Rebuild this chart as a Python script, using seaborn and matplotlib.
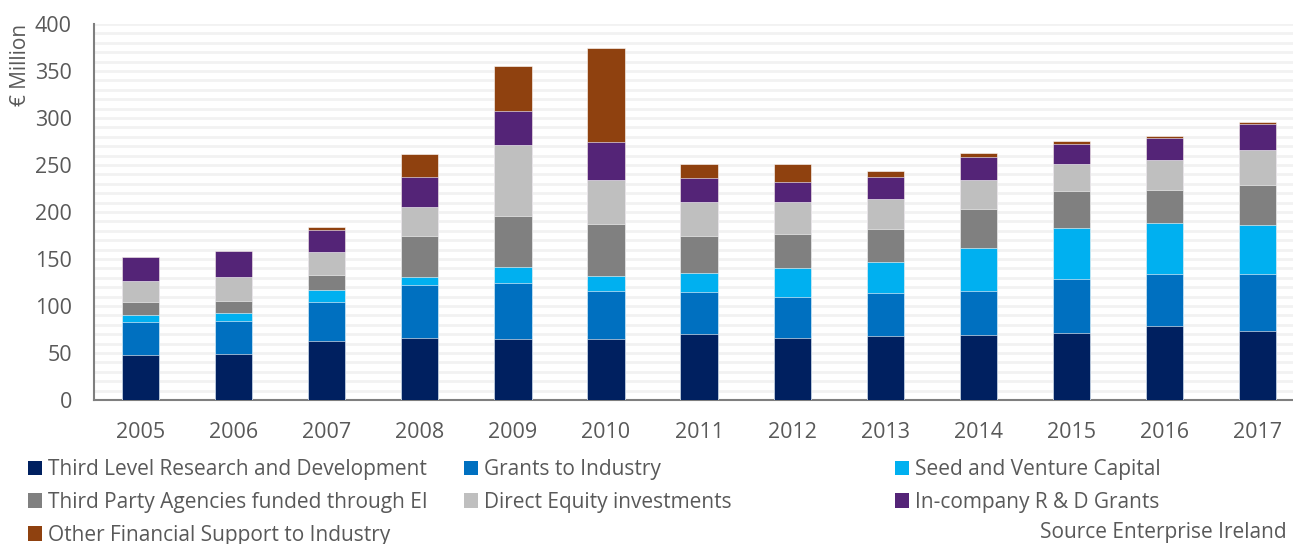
import numpy as np
import pandas as pd
import matplotlib
matplotlib.use("Agg")
import matplotlib.pyplot as plt
from matplotlib.patches import Patch
from matplotlib.ticker import MultipleLocator
import seaborn as sns

years = ["2005", "2006", "2007", "2008", "2009", "2010", "2011",
         "2012", "2013", "2014", "2015", "2016", "2017"]

third_level = [47.5, 48.6, 62.4, 66.3, 64.5, 64.5, 69.9, 66.3, 67.7, 68.8, 70.9, 78.4, 73.0]
grants      = [35.5, 35.4, 42.2, 56.4, 60.3, 51.5, 45.3, 43.6, 46.1, 47.2, 58.2, 55.6, 61.0]
seed        = [7.4, 8.6, 12.4, 8.5, 16.3, 15.6, 19.9, 30.2, 33.0, 46.1, 53.9, 54.3, 52.2]
third_party = [13.5, 13.1, 16.0, 42.9, 55.0, 55.3, 39.7, 36.9, 35.1, 41.1, 39.3, 35.5, 42.9]
direct_eq   = [22.3, 25.2, 24.4, 30.9, 74.8, 47.1, 36.2, 34.0, 32.3, 30.8, 28.8, 31.2, 37.2]
in_company  = [25.8, 27.6, 23.8, 31.9, 36.2, 40.8, 25.2, 20.6, 23.4, 24.9, 20.9, 24.1, 27.7]
other       = [0.0, 0.0, 2.8, 25.1, 47.9, 99.3, 14.9, 19.5, 6.4, 4.2, 3.2, 1.4, 1.4]

series_names = ["Third Level Research and Development", "Grants to Industry",
                "Seed and Venture Capital", "Third Party Agencies funded through EI",
                "Direct Equity investments", "In-company R & D Grants",
                "Other Financial Support to Industry"]
series_values = [third_level, grants, seed, third_party, direct_eq, in_company, other]
colors = ["#002060", "#0070C0", "#00B0F0", "#808080", "#BFBFBF", "#542477", "#8F410F"]

sns.set_theme(style="white")
plt.rcParams["font.family"] = ["Open Sans", "DejaVu Sans"]

W, H = 1293, 544
fig = plt.figure(figsize=(W / 100, H / 100), dpi=100)
ax = fig.add_axes([94 / W, 1 - 400 / H, (W - 94) / W, (400 - 24) / H])

cum = np.cumsum(np.array(series_values), axis=0)
df = pd.DataFrame({"year": years})
for i in range(len(series_names) - 1, -1, -1):
    df["v"] = cum[i]
    sns.barplot(data=df, x="year", y="v", color=colors[i], saturation=1,
                width=0.4, ax=ax, edgecolor="white", linewidth=0.4, zorder=3)

ax.set_ylim(0, 400)
ax.set_xlim(-0.5, 12.38)
ax.yaxis.set_major_locator(MultipleLocator(50))
ax.yaxis.set_minor_locator(MultipleLocator(10))
ax.grid(False)
ax.grid(axis="y", which="both", color="#F2F2F2", linewidth=2.0, zorder=0)
ax.set_axisbelow(True)

for s in ["top", "right"]:
    ax.spines[s].set_visible(False)
for s in ["left", "bottom"]:
    ax.spines[s].set_color("#7F7F7F")
    ax.spines[s].set_linewidth(1.5)

ax.tick_params(axis="both", which="both", length=0, labelsize=15.5, colors="#595959")
ax.tick_params(axis="x", pad=16)
ax.tick_params(axis="y", pad=16)
ax.set_xlabel("")
ax.set_ylabel("€ Million", fontsize=15, color="#595959", loc="top", labelpad=3)

handles = [Patch(facecolor=c, edgecolor="none") for c in colors]
cols = [[0, 3, 6], [1, 4], [2, 5]]
col_x = [28, 464, 895]
for cidx, xpx in zip(cols, col_x):
    fig.legend([handles[i] for i in cidx], [series_names[i] for i in cidx],
               loc="upper left", bbox_to_anchor=(xpx / W, 1 - 459 / H),
               frameon=False, fontsize=15, ncol=1, borderpad=0,
               borderaxespad=0, handlelength=0.68, handleheight=0.68,
               handletextpad=0.3, labelspacing=0.57, labelcolor="#595959")

fig.text(1040 / W, 1 - 543 / H, "Source Enterprise Ireland", fontsize=15,
         color="#595959", ha="left", va="bottom")

fig.savefig("out.png", dpi=100)
